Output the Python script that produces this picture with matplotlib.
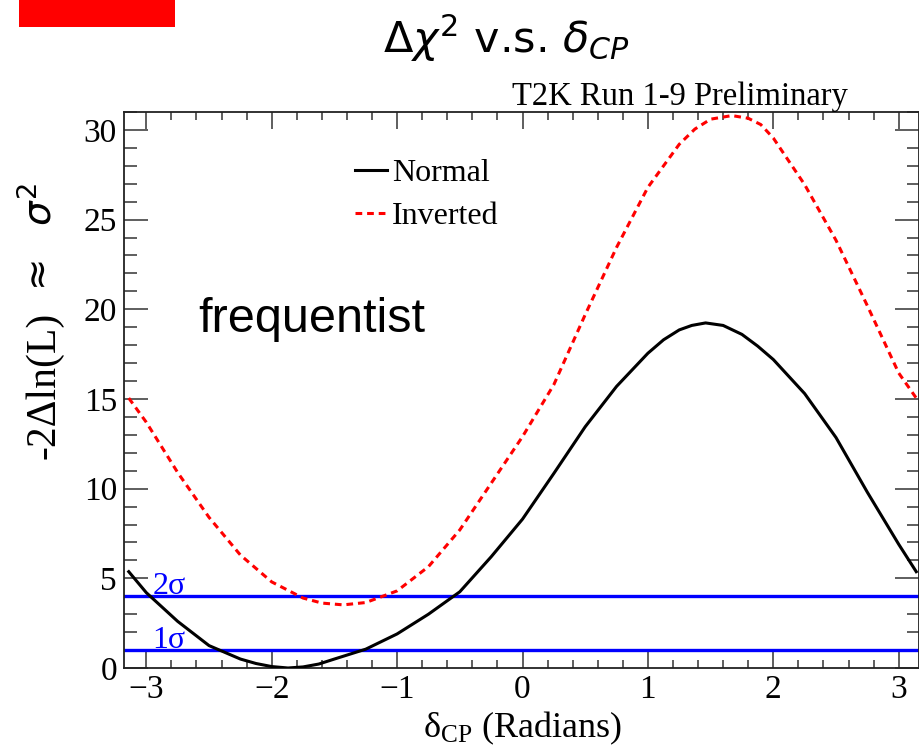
import matplotlib.pyplot as plt
from matplotlib.patches import Rectangle
from matplotlib.ticker import MultipleLocator

# values
dcp_normal = [-3.14, -3.0, -2.75, -2.5, -2.25, -2.125, -2.0, -1.87, -1.75, -1.625,
              -1.5, -1.25, -1.0, -0.75, -0.5, -0.25, 0.0, 0.25, 0.5, 0.75,
              1.0, 1.125, 1.25, 1.35, 1.46, 1.6, 1.75, 1.875, 2.0, 2.25,
              2.5, 2.75, 3.0, 3.14]
chi2_normal = [5.37, 4.2, 2.6, 1.25, 0.5, 0.25, 0.08, 0.0, 0.06, 0.22,
               0.5, 1.05, 1.9, 3.0, 4.25, 6.2, 8.3, 10.85, 13.45, 15.7,
               17.55, 18.3, 18.85, 19.1, 19.24, 19.1, 18.6, 17.95, 17.2, 15.3,
               12.85, 9.8, 6.9, 5.37]

dcp_inverted = [-3.14, -3.0, -2.75, -2.5, -2.25, -2.0, -1.75, -1.6, -1.43, -1.25,
                -1.0, -0.75, -0.5, -0.25, 0.0, 0.25, 0.5, 0.75, 1.0, 1.25,
                1.375, 1.5, 1.67, 1.8, 1.9, 2.0, 2.25, 2.5, 2.75, 3.0, 3.14]
chi2_inverted = [15.05, 13.7, 10.9, 8.4, 6.3, 4.8, 3.9, 3.62, 3.52, 3.65,
                 4.3, 5.65, 7.7, 10.3, 12.9, 15.8, 19.7, 23.45, 26.8, 29.2,
                 30.05, 30.6, 30.8, 30.65, 30.3, 29.55, 26.95, 23.85, 20.2, 16.45, 15.05]

sigma_levels = [1, 4]
sigma_labels = ['1\u03c3', '2\u03c3']

serif = ['Liberation Serif', 'DejaVu Serif']

fig = plt.figure(figsize=(9.19, 7.55), dpi=100)
ax = fig.add_axes([124/919, 87/755, 795/919, 556/755])

l1, = ax.plot(dcp_normal, chi2_normal, color='black', lw=2.2, label='Normal', zorder=3)
l2, = ax.plot(dcp_inverted, chi2_inverted, color='red', lw=2.2, ls=(0, (2.2, 1.6)),
              label='Inverted', zorder=3)

for lev, lab in zip(sigma_levels, sigma_labels):
    ax.axhline(lev, color='#0000ff', lw=2.4, zorder=2)
    ax.text(-2.95, lev + 0.12, lab, color='#0000ff', fontsize=23,
            family=serif, va='baseline', ha='left')

ax.set_xlim(-3.178, 3.162)
ax.set_ylim(0, 31.0)
ax.xaxis.set_major_locator(MultipleLocator(1))
ax.xaxis.set_minor_locator(MultipleLocator(0.2))
ax.yaxis.set_major_locator(MultipleLocator(5))
ax.yaxis.set_minor_locator(MultipleLocator(1))
ax.tick_params(axis='x', which='major', direction='in', length=12, width=1.1,
               top=True, bottom=True, pad=5, labelsize=24, color='#333333')
ax.tick_params(axis='x', which='minor', direction='in', length=6, width=1.1,
               top=True, bottom=True, color='#333333')
ax.tick_params(axis='y', which='major', direction='in', length=17, width=1.1,
               left=True, right=True, pad=5, labelsize=24, color='#333333')
ax.tick_params(axis='y', which='minor', direction='in', length=9, width=1.1,
               left=True, right=True, color='#333333')
for lbl in ax.get_xticklabels() + ax.get_yticklabels():
    lbl.set_family(serif)
for s in ax.spines.values():
    s.set_linewidth(1.3)
    s.set_color('#222222')

leg = ax.legend(handles=[l1, l2], loc='upper left', frameon=False,
                bbox_to_anchor=(355/919, 1 - 159/755), bbox_transform=fig.transFigure,
                prop={'family': serif, 'size': 23}, handlelength=1.0,
                handletextpad=0.15, labelspacing=0.43, borderpad=0, borderaxespad=0)

fig.text(198/919, 1 - 320/755, 'frequentist', fontsize=35, family='Liberation Sans',
         va='center', ha='left')

# axis labels
fig.text(522/919, 1 - 728/755, r'$\mathregular{\delta_{CP}}$ (Radians)', fontsize=26,
         family=serif, ha='center', va='center')
fig.text(44/919, 1 - 385/755, '-2\u0394ln(L)', fontsize=30, family=serif,
         rotation=90, ha='center', va='center')
fig.text(40/919, 1 - 240/755, r'$\approx$  $\sigma^2$', fontsize=28, family='DejaVu Sans',
         rotation=90, ha='center', va='center')

fig.text(848/919, 1 - 97/755, 'T2K Run 1-9 Preliminary', fontsize=23.5, family=serif,
         ha='right', va='center')

fig.text(507/919, 1 - 38/755, r'$\Delta\chi^2$ v.s. $\delta_{CP}$', fontsize=31,
         ha='center', va='center')

fig.patches.append(Rectangle((19/919, 1 - 27/755), 156/919, 27/755, transform=fig.transFigure,
                             facecolor='#ff0000', edgecolor='none'))

fig.savefig('out.png', dpi=100)
